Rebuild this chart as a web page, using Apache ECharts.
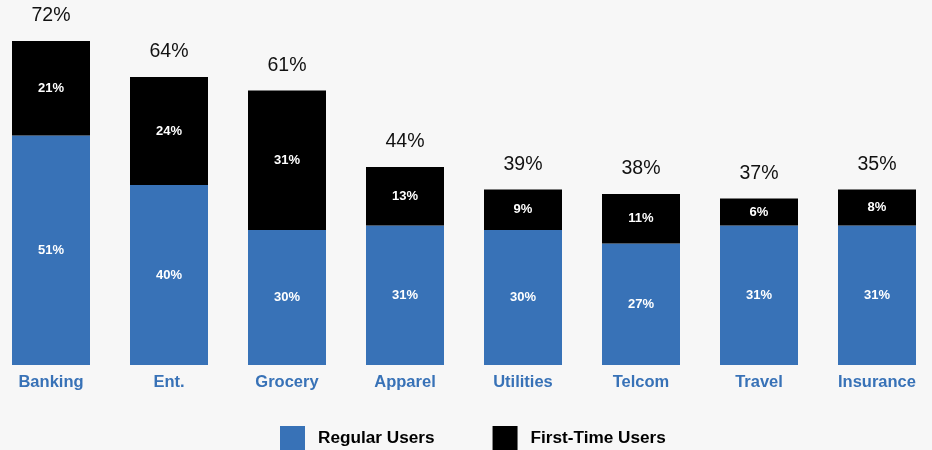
<!DOCTYPE html>
<html>
<head>
<meta charset="utf-8">
<script src="https://cdn.jsdelivr.net/npm/echarts@6/dist/echarts.min.js"></script>
<style>
  html, body { margin: 0; padding: 0; background: #f7f7f7; }
  #chart { width: 932px; height: 450px; }
</style>
</head>
<body>
<div id="chart"></div>
<script>
// Share of users by sector, split into regular and first-time users (percent)
const categories = ['Banking', 'Ent.', 'Grocery', 'Apparel', 'Utilities', 'Telcom', 'Travel', 'Insurance'];
const regularUsers = [51, 40, 30, 31, 30, 27, 31, 31];
const firstTimeUsers = [21, 24, 31, 13, 9, 11, 6, 8];
const totalLabels = ['72%', '64%', '61%', '44%', '39%', '38%', '37%', '35%'];

const BLUE = '#3872b7';
const FONT = '"Liberation Sans", Arial, Helvetica, sans-serif';

const chart = echarts.init(document.getElementById('chart'));

const innerLabel = {
  show: true,
  position: 'inside',
  color: '#ffffff',
  fontFamily: FONT,
  fontWeight: 'bold',
  fontSize: 13,
  formatter: p => p.value + '%'
};

chart.setOption({
  backgroundColor: '#f7f7f7',
  animation: false,
  grid: {
    left: -8, width: 944, top: 5, bottom: 85,
    containLabel: false,
    outerBoundsMode: 'none'
  },
  xAxis: {
    type: 'category',
    data: categories,
    axisLine: { show: false },
    axisTick: { show: false },
    axisLabel: {
      color: BLUE,
      fontFamily: FONT,
      fontWeight: 'bold',
      fontSize: 16.5,
      margin: 9
    }
  },
  yAxis: {
    type: 'value',
    min: 0,
    max: 80,
    show: false,
    splitLine: { show: false }
  },
  legend: {
    data: ['Regular Users', 'First-Time Users'],
    left: 280,
    top: 426,
    padding: 0,
    itemWidth: 25,
    itemHeight: 25,
    itemGap: 58,
    icon: 'rect',
    itemStyle: { borderWidth: 0 },
    textStyle: {
      color: '#000000',
      fontFamily: FONT,
      fontWeight: 'bold',
      fontSize: 17.2,
      padding: [0, 0, 0, 8]
    }
  },
  series: [
    {
      name: 'Regular Users',
      type: 'bar',
      stack: 'users',
      barWidth: 78,
      data: regularUsers,
      itemStyle: { color: BLUE },
      label: innerLabel
    },
    {
      name: 'First-Time Users',
      type: 'bar',
      stack: 'users',
      barWidth: 78,
      data: firstTimeUsers,
      itemStyle: { color: '#000000' },
      label: innerLabel
    },
    {
      name: 'Total',
      type: 'bar',
      stack: 'users',
      barWidth: 78,
      data: categories.map(() => 0),
      itemStyle: { color: 'transparent' },
      label: {
        show: true,
        position: 'top',
        distance: 15,
        color: '#111111',
        fontFamily: FONT,
        fontSize: 19.5,
        formatter: p => totalLabels[p.dataIndex]
      },
      silent: true
    }
  ]
});
</script>
</body>
</html>
